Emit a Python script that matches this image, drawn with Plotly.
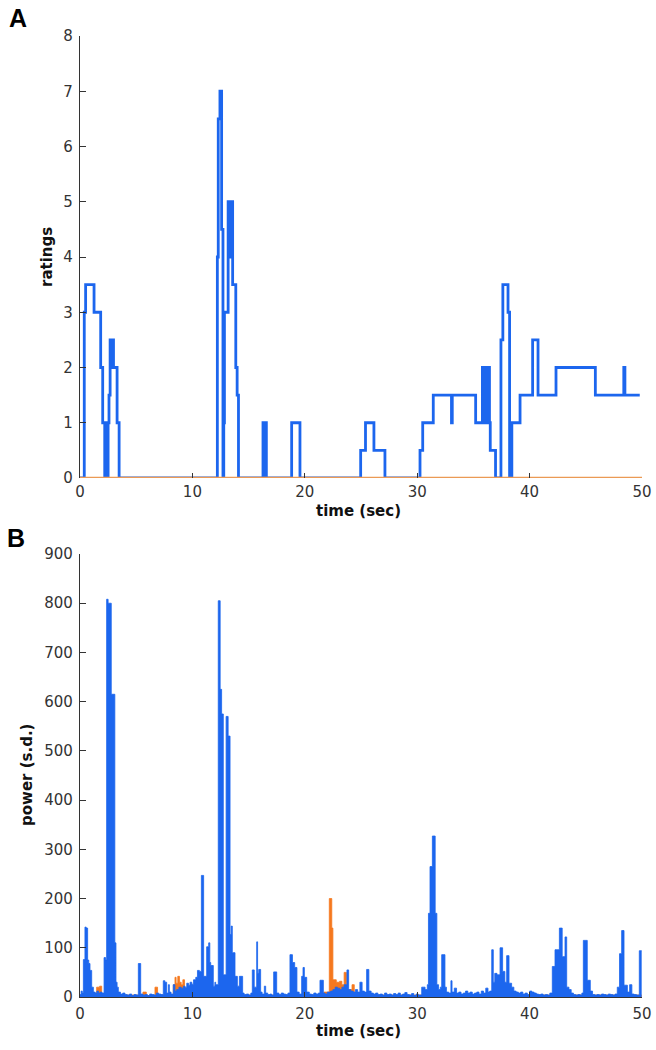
import plotly.graph_objects as go

# ---------------- Panel A: ratings (step function) ----------------
rating_time = [0, 0.38, 0.5, 1.25, 1.84, 2.02, 2.2, 2.26, 2.32, 2.38, 2.44, 2.5, 2.58, 2.68, 2.74, 2.8, 2.86, 2.92, 2.98, 3.3, 3.48,
               12.22, 12.3, 12.45, 12.6, 12.72, 12.79, 12.85, 13.18, 13.24, 13.3, 13.36, 13.42, 13.58, 13.86, 13.98, 14.1,
               16.28, 16.34, 16.4, 16.46, 16.52, 16.58, 18.83, 19.57,
               24.97, 25.4, 26.15, 27.13, 30.25, 30.49, 31.43, 33.05, 33.12, 35.2,
               35.8, 35.87, 35.94, 36.01, 36.08, 36.15, 36.22, 36.29, 36.36, 36.43, 36.5, 36.97,
               37.45, 37.62, 38.08, 38.22, 38.3, 38.36, 38.42, 39.15, 40.27, 40.75, 42.35, 45.85, 48.38, 48.48, 49.8]
rating_value = [0, 3, 3.5, 3, 2, 1, 0, 1, 0, 1, 0, 1, 1.5, 2.5, 2, 2.5, 2, 2.5, 2, 1, 0,
                4, 6.5, 7, 4.5, 0, 1, 3, 5, 4, 5, 4, 5, 3.5, 2, 1.5, 0,
                1, 0, 1, 0, 1, 0, 1, 0,
                0.5, 1, 0.5, 0, 0.5, 1, 1.5, 1, 1.5, 1,
                2, 1, 2, 1, 2, 1, 2, 1, 2, 1, 0.5, 0,
                2.5, 3.5, 3, 0, 1, 0, 1, 1.5, 2.5, 1.5, 2, 1.5, 2, 1.5, 1.5]
baseline_time = [0, 50]
baseline_value = [0, 0]

# ---------------- Panel B: power (s.d.) ----------------
power_time = [0.0, 0.1, 0.2, 0.3, 0.44, 0.55, 0.68, 0.78, 0.89, 1.04,
              1.19, 1.35, 1.5, 1.65, 1.8, 1.95, 2.14, 2.28, 2.37, 2.5,
              2.78, 3.1, 3.2, 3.3, 3.41, 3.6, 3.8, 4.0, 4.2, 4.4,
              4.6, 4.8, 5.0, 5.19, 5.4, 5.6, 5.8, 6.0, 6.2, 6.4,
              6.6, 6.8, 7.0, 7.2, 7.41, 7.55, 7.71, 7.86, 7.95, 8.1,
              8.3, 8.45, 8.6, 8.8, 9.0, 9.2, 9.34, 9.5, 9.65, 9.79,
              9.95, 10.1, 10.3, 10.45, 10.62, 10.8, 11.0, 11.27, 11.45, 11.55,
              11.63, 11.86, 12.0, 12.07, 12.3, 12.47, 12.6, 12.75, 13.0, 13.18,
              13.35, 13.45, 13.55, 13.79, 14.0, 14.18, 14.47, 14.6, 14.8, 15.0,
              15.2, 15.33, 15.5, 15.72, 15.8, 15.9, 16.07, 16.2, 16.4, 16.52,
              16.7, 16.9, 17.05, 17.23, 17.5, 17.7, 17.9, 18.1, 18.3, 18.5,
              18.68, 18.9, 19.1, 19.3, 19.5, 19.72, 19.84, 19.96, 20.17, 20.4,
              20.6, 20.8, 21.0, 21.2, 21.35, 21.65, 21.8, 22.0, 22.3, 22.5,
              22.7, 22.9, 23.1, 23.3, 23.5, 23.75, 23.9, 24.1, 24.3, 24.5,
              24.7, 24.9, 25.1, 25.3, 25.5, 25.7, 25.9, 26.1, 26.3, 26.5,
              26.7, 26.9, 27.1, 27.3, 27.5, 27.7, 27.9, 28.1, 28.3, 28.5,
              28.7, 28.9, 29.1, 29.3, 29.5, 29.7, 29.9, 30.1, 30.4, 30.7,
              30.9, 31.0, 31.14, 31.35, 31.6, 31.75, 31.9, 32.05, 32.18, 32.47,
              32.6, 32.8, 33.0, 33.1, 33.3, 33.5, 33.7, 33.9, 34.1, 34.3,
              34.5, 34.7, 34.9, 35.1, 35.3, 35.5, 35.7, 35.9, 36.1, 36.3,
              36.45, 36.63, 36.77, 36.9, 37.1, 37.37, 37.6, 37.8, 37.96, 38.17,
              38.4, 38.6, 38.8, 39.0, 39.2, 39.4, 39.6, 39.8, 40.0, 40.2,
              40.4, 40.6, 40.8, 41.0, 41.2, 41.4, 41.6, 41.8, 42.02, 42.26,
              42.65, 42.9, 43.15, 43.3, 43.5, 43.7, 43.9, 44.1, 44.3, 44.5,
              44.65, 44.78, 45.13, 45.4, 45.6, 45.8, 46.0, 46.2, 46.4, 46.6,
              46.8, 47.0, 47.2, 47.4, 47.6, 47.8, 48.0, 48.19, 48.4, 48.7,
              48.9, 49.1, 49.3, 49.5, 49.76, 49.97]
power_blue = [5, 12, 8, 76, 142, 140, 75, 68, 54, 20,
              10, 8, 12, 8, 10, 8, 80, 75, 808, 800,
              615, 110, 30, 20, 10, 6, 8, 5, 4, 6,
              3, 5, 4, 68, 6, 4, 5, 3, 6, 5,
              4, 8, 6, 5, 33, 30, 8, 25, 10, 6,
              25, 12, 15, 20, 18, 22, 20, 28, 24, 30,
              26, 35, 40, 54, 52, 247, 42, 102, 110, 70,
              64, 22, 30, 25, 805, 625, 575, 45, 570, 530,
              127, 144, 90, 42, 22, 42, 8, 5, 6, 4,
              8, 55, 20, 112, 48, 56, 10, 6, 22, 8,
              5, 6, 4, 51, 8, 5, 8, 6, 5, 8,
              86, 70, 60, 10, 6, 42, 60, 40, 10, 6,
              5, 8, 6, 8, 34, 8, 6, 10, 12, 15,
              20, 18, 15, 20, 25, 55, 15, 12, 10, 15,
              10, 30, 12, 10, 56, 12, 8, 6, 8, 5,
              6, 4, 8, 5, 6, 4, 7, 5, 8, 4,
              6, 9, 5, 4, 7, 3, 6, 4, 20, 15,
              25, 170, 265, 327, 170, 25, 15, 20, 86, 20,
              10, 8, 33, 10, 18, 8, 10, 6, 8, 12,
              8, 10, 6, 8, 10, 6, 12, 8, 18, 10,
              12, 96, 30, 48, 45, 100, 52, 30, 84, 28,
              20, 12, 10, 8, 10, 6, 8, 5, 12, 10,
              8, 6, 5, 6, 4, 5, 4, 8, 62, 96,
              140, 82, 122, 20, 15, 8, 5, 4, 5, 4,
              8, 115, 34, 12, 5, 4, 5, 4, 6, 5,
              4, 6, 5, 4, 6, 20, 88, 135, 24, 10,
              25, 6, 5, 4, 94, 94]
orange_time = [0.0, 1.48, 1.75, 1.93, 5.6, 5.9, 6.67, 6.9, 8.3, 8.45,
               8.55, 8.7, 8.85, 9.0, 9.15, 9.3, 11.9, 12.05, 21.7, 22.18,
               22.4, 22.5, 22.8, 23.1, 23.3, 23.5, 23.7, 24.2, 24.4, 49.97]
power_orange = [3, 20, 22, 4, 10, 3, 20, 4, 25, 40,
                28, 42, 30, 25, 35, 10, 15, 4, 10, 200,
                140, 35, 30, 32, 25, 50, 15, 25, 4, 4]

time_ticks = [0, 10, 20, 30, 40, 50]
rating_ticks = [0, 1, 2, 3, 4, 5, 6, 7, 8]
power_ticks = [0, 100, 200, 300, 400, 500, 600, 700, 800, 900]

BLUE = "#1c66ee"
ORANGE = "#f5781e"
AXIS = "#333333"
TICKFONT = dict(family="DejaVu Sans", size=15, color="#333333")
LABELFONT = dict(family="DejaVu Sans", size=15, color="#111111")

fig = go.Figure()
fig.add_trace(go.Scatter(x=rating_time, y=rating_value, mode="lines",
                         line=dict(color=BLUE, width=2.8, shape="hv"),
                         xaxis="x", yaxis="y", hoverinfo="skip"))
fig.add_trace(go.Scatter(x=baseline_time, y=baseline_value, mode="lines",
                         line=dict(color="#eb9a55", width=2.6),
                         xaxis="x", yaxis="y", hoverinfo="skip"))
fig.add_trace(go.Scatter(x=orange_time, y=power_orange, mode="lines", fill="tozeroy",
                         fillcolor=ORANGE, line=dict(color=ORANGE, width=0.8, shape="hv"),
                         xaxis="x2", yaxis="y2", hoverinfo="skip"))
fig.add_trace(go.Scatter(x=power_time, y=power_blue, mode="lines", fill="tozeroy",
                         fillcolor=BLUE, line=dict(color=BLUE, width=0.8, shape="hv"),
                         xaxis="x2", yaxis="y2", hoverinfo="skip"))

def xax(anchor, show_line):
    return dict(domain=[0, 1], anchor=anchor, range=[0, 50], tickvals=time_ticks,
                ticks="inside", ticklen=5, tickcolor=AXIS, tickwidth=1,
                showline=show_line, linecolor=AXIS, linewidth=1, showgrid=False,
                zeroline=False, tickfont=TICKFONT, ticklabelstandoff=3,
                automargin=False)

def yax(anchor, dom, rng, vals):
    return dict(domain=dom, anchor=anchor, range=rng, tickvals=vals,
                ticks="inside", ticklen=6, tickcolor=AXIS, tickwidth=1,
                showline=True, linecolor=AXIS, linewidth=1.2, showgrid=False,
                zeroline=False, tickfont=TICKFONT, ticklabelstandoff=3,
                automargin=False)

W, HT = 656, 1050
L, R, T, B = 80, 14, 36, 53
H = HT - T - B
def py(p):
    return (HT - B - p) / H
def px(p):
    return (p - L) / (W - L - R)

fig.update_layout(
    width=W, height=HT,
    margin=dict(l=L, r=R, t=T, b=B),
    paper_bgcolor="white", plot_bgcolor="white",
    showlegend=False,
    xaxis=xax("y", False),
    yaxis=yax("x", [py(478), 1], [0, 8], rating_ticks),
    xaxis2=xax("y2", True),
    yaxis2=yax("x2", [0, py(554)], [0, 900], power_ticks),
)

ann = [
    dict(text="<b>A</b>", x=px(18), y=py(18), font=dict(family="Liberation Sans", size=25, color="#000")),
    dict(text="<b>B</b>", x=px(16), y=py(538), font=dict(family="Liberation Sans", size=25, color="#000")),
    dict(text="<b>ratings</b>", x=px(47), y=py(257), textangle=-90, font=LABELFONT),
    dict(text="<b>power (s.d.)</b>", x=px(27), y=py(775), textangle=-90, font=LABELFONT),
    dict(text="<b>time (sec)</b>", x=px(358), y=py(511), font=LABELFONT),
    dict(text="<b>time (sec)</b>", x=px(358), y=py(1031), font=LABELFONT),
]
for a in ann:
    a.update(xref="paper", yref="paper", showarrow=False, xanchor="center", yanchor="middle")
fig.update_layout(annotations=ann)

fig.write_html("out.html", config={"displayModeBar": False},
               post_script="document.body.style.margin='0px';")
